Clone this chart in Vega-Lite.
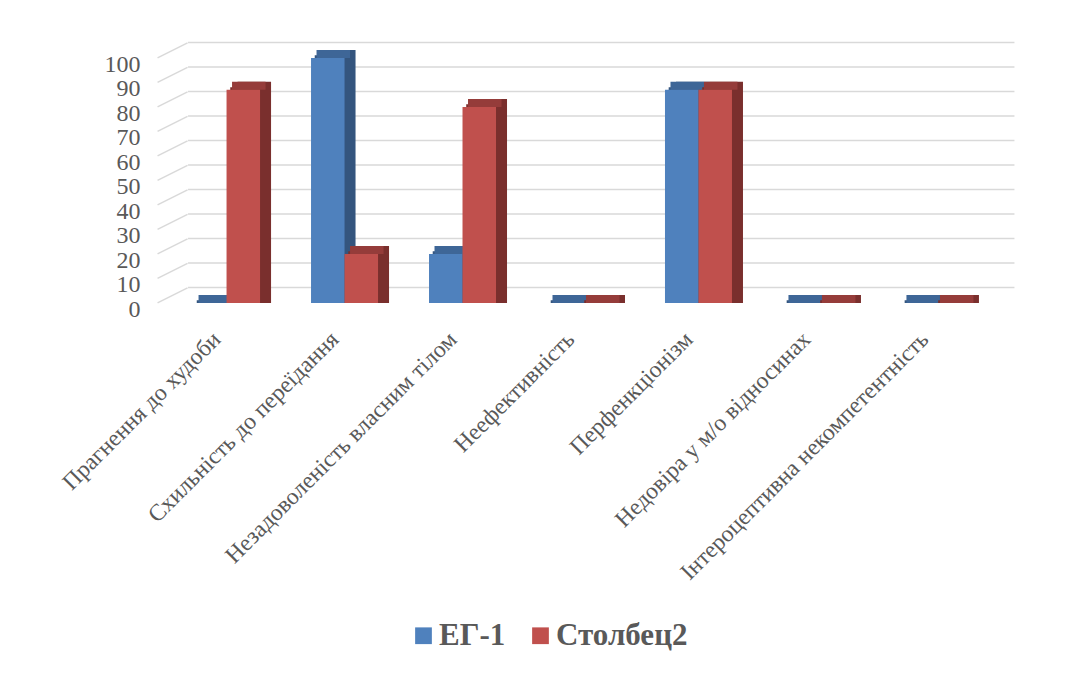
{
  "$schema": "https://vega.github.io/schema/vega-lite/v6.json",
  "autosize": {"type": "none"},
  "padding": {"left": 158, "top": 58, "right": 80, "bottom": 372},
  "width": 845,
  "height": 245,
  "background": "white",
  "datasets": {
    "scores": [
      {"cat": "Прагнення до худоби", "series": "ЕГ-1", "value": 0},
      {"cat": "Прагнення до худоби", "series": "Столбец2", "value": 87},
      {"cat": "Схильність до переїдання", "series": "ЕГ-1", "value": 100},
      {"cat": "Схильність до переїдання", "series": "Столбец2", "value": 20},
      {"cat": "Незадоволеність власним тілом", "series": "ЕГ-1", "value": 20},
      {"cat": "Незадоволеність власним тілом", "series": "Столбец2", "value": 80},
      {"cat": "Неефективність", "series": "ЕГ-1", "value": 0},
      {"cat": "Неефективність", "series": "Столбец2", "value": 0},
      {"cat": "Перфенкціонізм", "series": "ЕГ-1", "value": 87},
      {"cat": "Перфенкціонізм", "series": "Столбец2", "value": 87},
      {"cat": "Недовіра у м/о відносинах", "series": "ЕГ-1", "value": 0},
      {"cat": "Недовіра у м/о відносинах", "series": "Столбец2", "value": 0},
      {"cat": "Інтероцептивна некомпетентність", "series": "ЕГ-1", "value": 0},
      {"cat": "Інтероцептивна некомпетентність", "series": "Столбец2", "value": 0}
    ],
    "gridTicks": [
      {"tick": 0}, {"tick": 10}, {"tick": 20}, {"tick": 30}, {"tick": 40}, {"tick": 50},
      {"tick": 60}, {"tick": 70}, {"tick": 80}, {"tick": 90}, {"tick": 100}
    ]
  },
  "encoding": {
    "x": {
      "field": "cat",
      "type": "nominal",
      "sort": null,
      "scale": {
        "domain": [
          "Прагнення до худоби",
          "Схильність до переїдання",
          "Незадоволеність власним тілом",
          "Неефективність",
          "Перфенкціонізм",
          "Недовіра у м/о відносинах",
          "Інтероцептивна некомпетентність"
        ],
        "paddingInner": 0.432,
        "paddingOuter": 0.297
      },
      "axis": {
        "title": null,
        "domain": false,
        "ticks": false,
        "labelAngle": -45,
        "labelFont": "Liberation Serif",
        "labelFontSize": 23.5,
        "labelColor": "#595959",
        "labelPadding": 24,
        "labelOffset": -18,
        "labelLimit": 400
      }
    }
  },
  "layer": [
    {
      "data": {"name": "gridTicks"},
      "mark": {"type": "rule", "color": "#d9d9d9", "strokeWidth": 1.5, "xOffset": -5, "x2Offset": 46.5, "yOffset": -15.5, "y2Offset": -15.5},
      "encoding": {
        "x": {"datum": "Прагнення до худоби", "bandPosition": 0},
        "x2": {"datum": "Інтероцептивна некомпетентність", "bandPosition": 1},
        "y": {
          "field": "tick",
          "type": "quantitative",
          "title": null,
          "scale": {"domain": [0, 100], "nice": false, "zero": true}
        }
      }
    },
    {
      "data": {"name": "gridTicks"},
      "mark": {"type": "point", "shape": "M-1,0.5L1,-0.5", "size": 900, "filled": false, "stroke": "#d9d9d9", "strokeWidth": 1.5, "opacity": 1, "xOffset": -54, "yOffset": -7.7},
      "encoding": {
        "x": {"datum": "Прагнення до худоби"},
        "y": {"field": "tick", "type": "quantitative", "title": null}
      }
    },
    {
      "data": {"name": "scores"},
      "transform": [{"filter": "datum.series === 'ЕГ-1'"}],
      "encoding": {
        "y": {"field": "value", "type": "quantitative", "stack": null, "title": null}
      },
      "layer": [
        {"mark": {"type": "bar", "width": {"band": 0.5}, "color": "#34557e", "xOffset": -13.05, "x2Offset": -13.05, "yOffset": -2.7, "y2Offset": -2.7}},
        {"mark": {"type": "bar", "width": {"band": 0.5}, "color": "#34557e", "xOffset": -9.45, "x2Offset": -9.45, "yOffset": -5.3, "y2Offset": -5.3}},
        {"mark": {"type": "bar", "width": {"band": 0.5}, "color": "#34557e", "xOffset": -5.75, "x2Offset": -5.75, "yOffset": -8, "y2Offset": -8}},
        {
          "mark": {"type": "bar", "width": {"band": 0.5}, "color": "#3e6697", "xOffset": -11.25, "x2Offset": -11.25, "yOffset": 0, "y2Offset": -8},
          "encoding": {"y2": {"field": "value"}}
        },
        {
          "mark": {"type": "bar", "width": {"band": 0.5}, "xOffset": -16.75, "x2Offset": -16.75},
          "encoding": {
            "color": {
              "field": "series",
              "type": "nominal",
              "scale": {"domain": ["ЕГ-1", "Столбец2"], "range": ["#4f81bd", "#c0504d"]},
              "legend": {
                "title": null,
                "orient": "none",
                "legendX": 250,
                "legendY": 562,
                "direction": "horizontal",
                "symbolType": "square",
                "symbolSize": 280,
                "symbolStrokeWidth": 0,
                "labelFont": "Liberation Serif",
                "labelFontWeight": "bold",
                "labelFontSize": 31,
                "labelColor": "#595959",
                "labelOffset": 0,
                "columnPadding": 19
              }
            }
          }
        }
      ]
    },
    {
      "data": {"name": "scores"},
      "transform": [{"filter": "datum.series === 'Столбец2'"}],
      "encoding": {
        "y": {"field": "value", "type": "quantitative", "stack": null, "title": null}
      },
      "layer": [
        {"mark": {"type": "bar", "width": {"band": 0.5}, "color": "#7a2f2d", "xOffset": 20.45, "x2Offset": 20.45, "yOffset": -2.7, "y2Offset": -2.7}},
        {"mark": {"type": "bar", "width": {"band": 0.5}, "color": "#7a2f2d", "xOffset": 24.05, "x2Offset": 24.05, "yOffset": -5.3, "y2Offset": -5.3}},
        {"mark": {"type": "bar", "width": {"band": 0.5}, "color": "#7a2f2d", "xOffset": 27.75, "x2Offset": 27.75, "yOffset": -8, "y2Offset": -8}},
        {
          "mark": {"type": "bar", "width": {"band": 0.5}, "color": "#953c3a", "xOffset": 22.25, "x2Offset": 22.25, "yOffset": 0, "y2Offset": -8},
          "encoding": {"y2": {"field": "value"}}
        },
        {
          "mark": {"type": "bar", "width": {"band": 0.5}, "xOffset": 16.75, "x2Offset": 16.75},
          "encoding": {
            "color": {"field": "series", "type": "nominal"}
          }
        }
      ]
    }
  ],
  "config": {
    "view": {"stroke": null},
    "bar": {"stroke": null},
    "axisY": {
      "domain": false,
      "ticks": false,
      "grid": false,
      "tickCount": 11,
      "labelOverlap": false,
      "labelFont": "Liberation Serif",
      "labelFontSize": 24,
      "labelColor": "#595959",
      "labelPadding": 18,
      "labelOffset": 6
    }
  }
}
